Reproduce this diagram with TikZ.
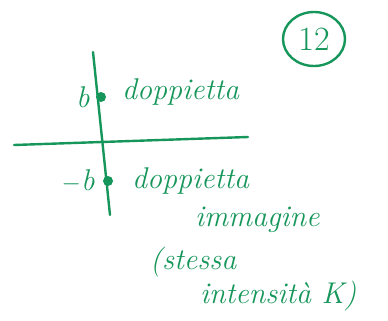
\documentclass[tikz,border=0pt]{standalone}
\usepackage{fontspec}
\usepackage{xcolor}
\usepackage{tikz}
\usetikzlibrary{positioning,calc,shapes.geometric}
\definecolor{inkcolor}{RGB}{22,150,90}

\begin{document}
\begin{tikzpicture}[
    x=1pt, y=-1pt,
    ink/.style={draw=inkcolor, line width=2.4pt, line cap=round},
    note/.style={text=inkcolor, font=\fontsize{30}{34}\selectfont\itshape, inner sep=0pt},
    charge/.style={circle, fill=inkcolor, inner sep=0pt, minimum size=10pt}
]
    \useasboundingbox (0,0) rectangle (388,321);

    % Page number
    \node[ink, ellipse, minimum width=62pt, minimum height=54pt, inner sep=0pt, text=inkcolor,
          font=\fontsize{34}{38}\selectfont] (page) at (314,39) {12};

    % Axes
    \coordinate (vtop) at (93,52);
    \coordinate (vbot) at (110,215);
    \coordinate (hleft) at (14,145);
    \coordinate (hright) at (248,137);
    \draw[ink] (vtop) -- (vbot);
    \draw[ink] (hleft) -- (hright);

    % Charges
    \node[charge] (plusb) at (101,97) {};
    \node[charge] (minusb) at (108,181) {};

    % Labels
    \node[note, left=6pt of plusb] (lb) {b};
    \node[note, left=8pt of minusb] (lmb) {$-$b};
    \node[note, anchor=west] (dop) at (122,92) {doppietta};
    \node[note, anchor=west] (dopimg) at (132,181) {doppietta};
    \node[note, anchor=west] (img) at (195,220) {immagine};
    \node[note, anchor=west] (stessa) at (150,262) {(stessa};
    \node[note, anchor=west] (inten) at (200,296) {intensità K)};
\end{tikzpicture}
\end{document}
